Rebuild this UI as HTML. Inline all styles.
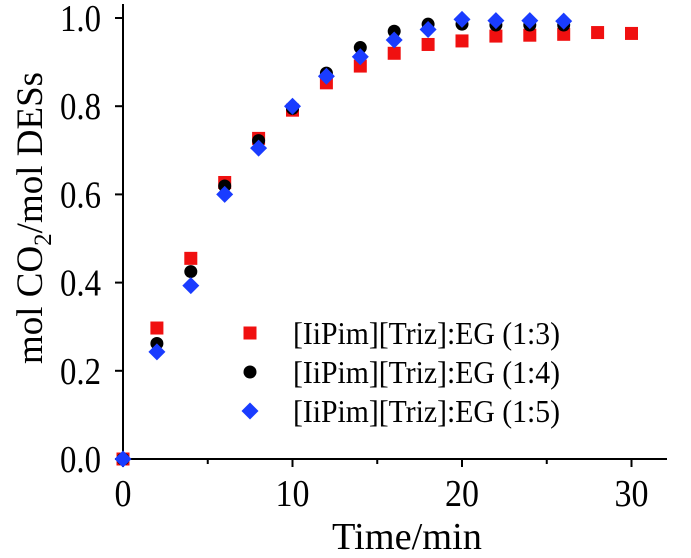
<!DOCTYPE html>
<html><head><meta charset="utf-8"><style>
body{margin:0;background:#fff}
svg{display:block;font-family:"Liberation Serif",serif}
</style></head><body>
<svg width="691" height="558" viewBox="0 0 691 558">
<g id="axes"></g><g id="marks"></g><g id="legend"></g>
</svg>
<script>
const times=[0,2,4,6,8,10,12,14,16,18,20,22,24,26,28,30];
const s13=[0,0.297,0.455,0.627,0.727,0.791,0.853,0.891,0.920,0.940,0.948,0.959,0.961,0.963,0.967,0.965];
const s14=[0,0.262,0.425,0.619,0.722,0.795,0.875,0.933,0.970,0.986,0.986,0.984,0.984,0.984];
const s15=[0,0.243,0.393,0.600,0.705,0.800,0.868,0.912,0.950,0.974,0.997,0.994,0.994,0.993];
const xTicks=[0,10,20,30];
const xMinor=[5,15,25];
const yTicks=[0,0.2,0.4,0.6,0.8,1.0];
const legendLabels=["[IiPim][Triz]:EG (1:3)","[IiPim][Triz]:EG (1:4)","[IiPim][Triz]:EG (1:5)"];
const NS="http://www.w3.org/2000/svg";
const X=v=>123+v*16.95, Y=v=>459-v*441;
function mk(t,a,p){const e=document.createElementNS(NS,t);for(const k in a)e.setAttribute(k,a[k]);p.appendChild(e);return e;}
const ax=document.getElementById('axes');
let l=mk('line',{x1:123,y1:4,x2:123,y2:460,stroke:'#000','stroke-width':2},ax);

l=mk('line',{x1:122,y1:459,x2:667,y2:459,stroke:'#000','stroke-width':2},ax);

xTicks.forEach(v=>{mk('line',{x1:X(v),y1:459,x2:X(v),y2:467,stroke:'#000','stroke-width':2},ax);
 const s=String(v);
 const t=mk('text',{x:X(v)-s.length*8.5,y:506,'font-size':38,textLength:s.length*17,lengthAdjust:'spacingAndGlyphs'},ax);t.textContent=s;
 });
xMinor.forEach(v=>mk('line',{x1:X(v),y1:459,x2:X(v),y2:464,stroke:'#000','stroke-width':2},ax));
yTicks.forEach(v=>{mk('line',{x1:115,y1:Y(v),x2:123,y2:Y(v),stroke:'#000','stroke-width':2},ax);
 const t=mk('text',{x:60,y:Y(v)+13,'font-size':38,textLength:41,lengthAdjust:'spacingAndGlyphs'},ax);t.textContent=v.toFixed(1);
 });
let t=mk('text',{x:332,y:549,'font-size':38,textLength:150,lengthAdjust:'spacingAndGlyphs'},ax);t.textContent='Time/min';

t=mk('text',{transform:'translate(42,218) rotate(-90)','font-size':37,'text-anchor':'middle'},ax);
t.innerHTML='mol CO<tspan font-size="25" dy="9">2</tspan><tspan dy="-9">/mol DESs</tspan>';

const mg=document.getElementById('marks');
function sq(x,y,p){return mk('rect',{x:x-6.5,y:y-6.5,width:13,height:13,fill:'#f01010'},p);}
function ci(x,y,p){return mk('circle',{cx:x,cy:y,r:6.5,fill:'#000'},p);}
function di(x,y,p){return mk('polygon',{points:`${x},${y-8.5} ${x+8.5},${y} ${x},${y+8.5} ${x-8.5},${y}`,fill:'#1a3cff'},p);}
s13.forEach((v,i)=>{const e=sq(X(times[i]),Y(v),mg);});
s14.forEach((v,i)=>{const e=ci(X(times[i]),Y(v),mg);});
s15.forEach((v,i)=>{const e=di(X(times[i]),Y(v),mg);});
const lg=document.getElementById('legend');
const fns=[sq,ci,di],ly=[333,372,411];
legendLabels.forEach((s,i)=>{const m=fns[i](250,ly[i],lg);
 const tt=mk('text',{x:293,y:ly[i]+11,'font-size':32,textLength:267,lengthAdjust:'spacingAndGlyphs'},lg);tt.textContent=s;
 });
</script>
</body></html>
